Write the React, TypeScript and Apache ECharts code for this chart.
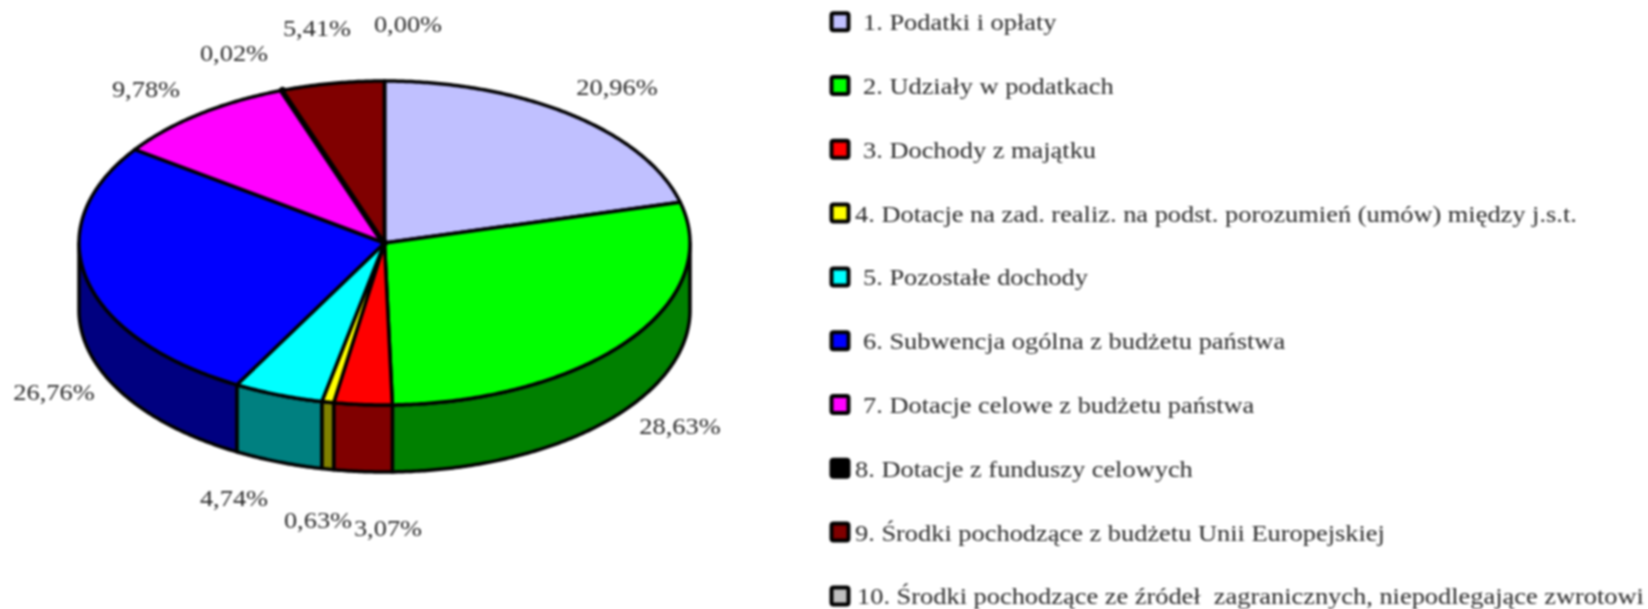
import React, { useEffect, useRef } from "react";
import * as echarts from "echarts";

const categories = [
  "1. Podatki i opłaty",
  "2. Udziały w podatkach",
  "3. Dochody z majątku",
  "4. Dotacje na zad. realiz. na podst. porozumień (umów) między j.s.t.",
  "5. Pozostałe dochody",
  "6. Subwencja ogólna z budżetu państwa",
  "7. Dotacje celowe z budżetu państwa",
  "8. Dotacje z funduszy celowych",
  "9. Środki pochodzące z budżetu Unii Europejskiej",
  "10. Środki pochodzące ze źródeł  zagranicznych, niepodlegające zwrotowi",
];
const values = [20.96, 28.63, 3.07, 0.63, 4.74, 26.76, 9.78, 0.02, 5.41, 0.0];
const topColors = ["#C0C0FF", "#00FF00", "#FF0000", "#FFFF00", "#00FFFF", "#0000FF", "#FF00FF", "#000000", "#800000", "#C0C0C0"];
const wallColors = ["#6060C0", "#008000", "#800000", "#808000", "#008080", "#000080", "#800080", "#000000", "#400000", "#606060"];
const labelCenters: [number, number][] = [
  [617, 87], [680, 426], [388, 528], [318, 520], [234, 498],
  [54, 392], [146, 89], [234, 53], [317, 28], [408, 24],
];
const legendTextX = [863, 863, 863, 855, 863, 863, 863, 855, 855, 857];

const CX = 384.5, CY = 243, RX = 305.5, RY = 162, DEPTH = 67;
const FONT = '"Liberation Serif", "Times New Roman", serif';
const FONT_SIZE = 24, TEXT_SCALE_X = 1.1, TEXT_COLOR = "#2a2a2a";
const LEGEND_TOP = 21.7, LEGEND_PITCH = 63.8;
const STROKE = 3.5, BLACK_WEDGE_STROKE = 7;

const total = values.reduce((a, b) => a + b, 0);
const starts: number[] = [];
values.reduce((acc, v, i) => { starts[i] = acc; return acc + v; }, 0);
const toAngle = (v: number) => (v / total) * 360;
const rim = (deg: number, dy = 0): number[] => {
  const r = (deg * Math.PI) / 180;
  return [CX + RX * Math.sin(r), CY - RY * Math.cos(r) + dy];
};
const arcPoints = (from: number, to: number, dy = 0): number[][] => {
  const pts: number[][] = [];
  const n = Math.max(1, Math.ceil((to - from) / 0.5));
  for (let k = 0; k <= n; k++) pts.push(rim(from + ((to - from) * k) / n, dy));
  return pts;
};

function renderWall(_: any, api: any) {
  const i = api.value(0);
  const a0 = toAngle(starts[i]);
  const a1 = a0 + toAngle(api.value(1));
  const from = Math.max(a0, 90), to = Math.min(a1, 270);
  if (to <= from) return null;
  return {
    type: "polygon",
    shape: { points: [...arcPoints(from, to), ...arcPoints(from, to, DEPTH).reverse()] },
    style: { fill: wallColors[i], stroke: "#000", lineWidth: STROKE, lineJoin: "round" },
  };
}
function renderTop(_: any, api: any) {
  const i = api.value(0);
  const a0 = toAngle(starts[i]);
  const a1 = a0 + toAngle(api.value(1));
  return {
    type: "polygon",
    shape: { points: [[CX, CY], ...arcPoints(a0, a1)] },
    style: {
      fill: topColors[i], stroke: "#000",
      lineWidth: topColors[i] === "#000000" ? BLACK_WEDGE_STROKE : STROKE,
      lineJoin: "round",
    },
  };
}
function renderLabel(_: any, api: any) {
  const i = api.value(0);
  const [x, y] = labelCenters[i];
  return {
    type: "text",
    x, y, scaleX: TEXT_SCALE_X,
    style: {
      text: api.value(1).toFixed(2).replace(".", ",") + "%",
      font: `${FONT_SIZE}px ${FONT}`,
      fill: TEXT_COLOR, align: "center", verticalAlign: "middle",
    },
  };
}

const seriesData = values.map((v, i) => ({ name: categories[i], value: [i, v] }));

const legendGraphics = categories.flatMap((name, i) => {
  const y = LEGEND_TOP + i * LEGEND_PITCH;
  return [
    {
      type: "rect", shape: { x: 831.5, y: y - 8.5, width: 17, height: 17, r: 2 },
      style: { fill: topColors[i], stroke: "#000", lineWidth: 4 },
    },
    {
      type: "text", x: legendTextX[i], y: y + 0.5, scaleX: TEXT_SCALE_X,
      style: { text: name, font: `${FONT_SIZE}px ${FONT}`, fill: TEXT_COLOR, align: "left", verticalAlign: "middle" },
    },
  ];
});

export default function App() {
  const ref = useRef<HTMLDivElement>(null);
  useEffect(() => {
    const chart = echarts.init(ref.current!, undefined, { renderer: "svg" });
    chart.setOption({
      animation: false,
      backgroundColor: "#fff",
      tooltip: { show: false },
      series: [
        { type: "custom", coordinateSystem: "none", name: "walls", renderItem: renderWall, data: seriesData, z: 1, silent: true },
        { type: "custom", coordinateSystem: "none", name: "top", renderItem: renderTop, data: seriesData, z: 2, silent: true },
        { type: "custom", coordinateSystem: "none", name: "labels", renderItem: renderLabel, data: seriesData, z: 3, silent: true },
      ],
      graphic: { elements: legendGraphics },
    });
    return () => chart.dispose();
  }, []);
  return (
    <div
      ref={ref}
      style={{ position: "absolute", left: 0, top: 0, width: 1648, height: 609, filter: "blur(0.9px)" }}
    />
  );
}
